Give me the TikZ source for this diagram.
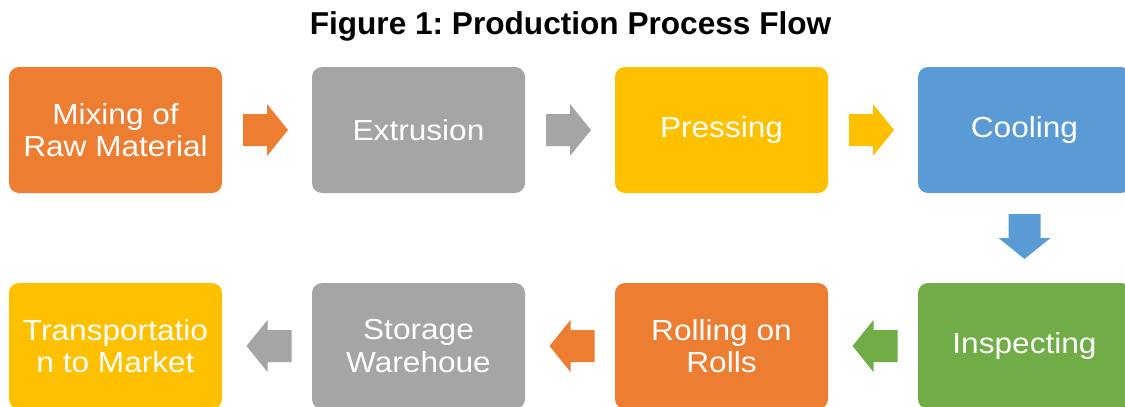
\documentclass[tikz,border=0pt]{standalone}
\usepackage{fontspec}
\setmainfont{Liberation Sans}
\newfontfamily\boxfont[FakeStretch=1.09]{Liberation Sans}
\usetikzlibrary{calc}
\definecolor{ora}{HTML}{ED7D31}
\definecolor{gry}{HTML}{A5A5A5}
\definecolor{yel}{HTML}{FFC000}
\definecolor{blu}{HTML}{5B9BD5}
\definecolor{grn}{HTML}{70AD47}
\tikzset{
  box/.style={rounded corners=10pt, minimum width=213pt, minimum height=126pt, inner sep=0pt,
    align=center, text=white, font=\boxfont\fontsize{29}{32.7}\selectfont},
  blockarrow/.pic={\path[pic actions] (-22.5,-16) -- (1.5,-16) -- (1.5,-26) -- (22.5,0) -- (1.5,26) -- (1.5,16) -- (-22.5,16) -- cycle;}
}
\frenchspacing
\begin{document}
\begin{tikzpicture}[x=1pt,y=-1pt]
\useasboundingbox (0,0) rectangle (1125,407);
\clip (0,0) rectangle (1125,407);
\node[font=\fontsize{31.6}{34}\selectfont\bfseries] (title) at (570.5,26) {Figure 1: Production Process Flow};
% top row
\node[box, fill=ora] (b1) at (115.5,130) {Mixing of\\Raw Material};
\node[box, fill=gry] (b2) at (418.5,130) {Extrusion};
\node[box, fill=yel] (b3) at (721.5,130) {Pressing};
\node[box, fill=blu] (b4) at (1024.5,130) {Cooling};
% bottom row
\node[box, fill=grn] (b5) at (1024.5,346) {Inspecting};
\node[box, fill=ora] (b6) at (721.5,346) {Rolling on\\Rolls};
\node[box, fill=gry] (b7) at (418.5,346) {Storage\\Warehoue};
\node[box, fill=yel] (b8) at (115.5,346) {Transportatio\\n to Market};
% arrows
\pic[fill=ora] at ($(b1.east)!0.5!(b2.west)+(-1.5,0)$) {blockarrow};
\pic[fill=gry] at ($(b2.east)!0.5!(b3.west)+(-1.5,0)$) {blockarrow};
\pic[fill=yel] at ($(b3.east)!0.5!(b4.west)+(-1.5,0)$) {blockarrow};
\pic[fill=blu, rotate=-90] at ($(b4.south)!0.5!(b5.north)+(0,-1.5)$) {blockarrow};
\pic[fill=grn, rotate=180] at ($(b5.west)!0.5!(b6.east)+(2,0)$) {blockarrow};
\pic[fill=ora, rotate=180] at ($(b6.west)!0.5!(b7.east)+(2,0)$) {blockarrow};
\pic[fill=gry, rotate=180] at ($(b7.west)!0.5!(b8.east)+(2,0)$) {blockarrow};
\end{tikzpicture}
\end{document}
